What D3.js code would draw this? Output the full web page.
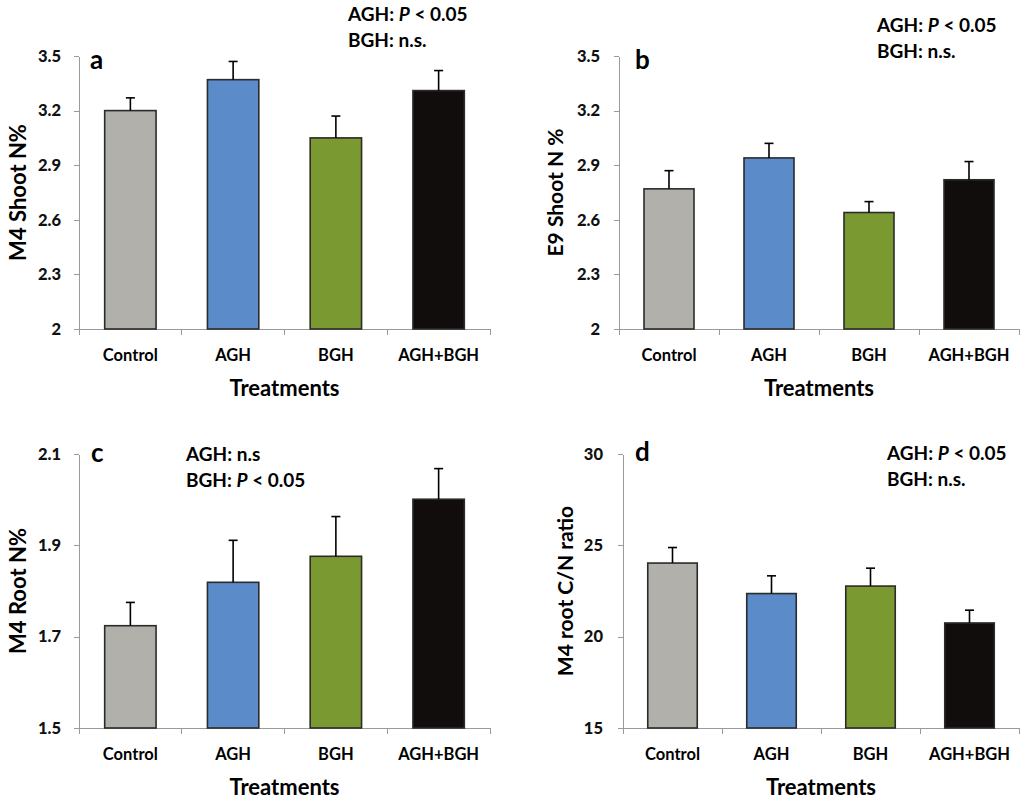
<html>
  <head>
    <title>Shoot and root N</title>
    <script type="text/javascript" src="https://cdn.jsdelivr.net/npm/d3@7"></script>
    <style type="text/css">

body {
  margin: 0;
  background: #fff;
  font-family: Lato, "Open Sans", sans-serif;
  font-weight: bold;
}

.axis path, .axis line {
  stroke: #9a9a9a;
  shape-rendering: crispEdges;
}

.bar {
  stroke: #2b2b2b;
  stroke-width: 1.6px;
}

.err {
  stroke: #000;
  stroke-width: 1.6px;
}

    </style>
  </head>
  <body>
    <script type="text/javascript">

var treatments = ["Control", "AGH", "BGH", "AGH+BGH"];
var barColors = ["#b1b0ab", "#5b8bc8", "#7a9930", "#110d0c"];

var m4Shoot = [3.20, 3.37, 3.05, 3.31],
    m4ShootErr = [0.07, 0.10, 0.12, 0.11],
    m4ShootTicks = [2, 2.3, 2.6, 2.9, 3.2, 3.5];

var e9Shoot = [2.77, 2.94, 2.64, 2.82],
    e9ShootErr = [0.10, 0.08, 0.06, 0.10],
    e9ShootTicks = [2, 2.3, 2.6, 2.9, 3.2, 3.5];

var m4Root = [1.724, 1.819, 1.876, 2.001],
    m4RootErr = [0.051, 0.092, 0.087, 0.067],
    m4RootTicks = [1.5, 1.7, 1.9, 2.1];

var m4CN = [24.03, 22.36, 22.77, 20.75],
    m4CNErr = [0.85, 0.97, 0.98, 0.70],
    m4CNTicks = [15, 20, 25, 30];

var svg = d3.select("body")
  .append("svg")
    .attr("width", 1024)
    .attr("height", 799);

function panel(o) {
  var x = d3.scaleBand()
      .domain(treatments)
      .range([o.x0, o.x1])
      .paddingInner(0.5)
      .paddingOuter(0.25);

  var y = d3.scaleLinear()
      .domain([o.ticks[0], o.ticks[o.ticks.length - 1]])
      .range([o.y0, o.y1]);

  var g = svg.append("g");

  // y axis
  g.append("g")
      .attr("class", "axis")
      .attr("transform", "translate(" + o.x0 + ",0)")
      .call(d3.axisLeft(y).tickValues(o.ticks).tickSize(5).tickSizeOuter(0)
        .tickFormat(function(d) { return String(d); }))
      .call(function(a) {
        a.selectAll("text").attr("x", -o.labelGap).attr("fill", "#111")
            .style("font-size", "16.5px").style("font-family", "Lato, sans-serif")
            .style("font-weight", "900");
      });

  // x axis with ticks at the category boundaries
  var xa = g.append("g")
      .attr("class", "axis");
  xa.append("line")
      .attr("x1", o.x0).attr("x2", o.x1)
      .attr("y1", o.y0 + 0.5).attr("y2", o.y0 + 0.5);
  var step = (o.x1 - o.x0) / treatments.length;
  xa.selectAll("line.tick")
      .data(d3.range(treatments.length + 1))
    .enter().append("line")
      .attr("class", "tick")
      .attr("x1", function(i) { return o.x0 + i * step; })
      .attr("x2", function(i) { return o.x0 + i * step; })
      .attr("y1", o.y0)
      .attr("y2", o.y0 + 6);

  g.selectAll("text.cat")
      .data(treatments)
    .enter().append("text")
      .attr("class", "cat")
      .attr("x", function(d) { return x(d) + x.bandwidth() / 2; })
      .attr("y", o.y0 + 32)
      .attr("text-anchor", "middle")
      .style("font-size", "16.5px")
      .text(function(d) { return d; });

  g.append("text")
      .attr("x", (o.x0 + o.x1) / 2)
      .attr("y", o.y0 + 67)
      .attr("text-anchor", "middle")
      .style("font-size", "22px")
      .text("Treatments");

  g.append("text")
      .attr("transform", "translate(" + o.ylx + "," + ((o.y0 + o.y1) / 2) + ") rotate(-90)")
      .attr("text-anchor", "middle")
      .attr("dy", ".35em")
      .style("font-size", o.ylSize + "px")
      .text(o.ylabel);

  // bars
  g.selectAll("rect.bar")
      .data(o.values)
    .enter().append("rect")
      .attr("class", "bar")
      .attr("x", function(d, i) { return x(treatments[i]); })
      .attr("width", x.bandwidth())
      .attr("y", function(d) { return y(d); })
      .attr("height", function(d) { return o.y0 - y(d); })
      .attr("fill", function(d, i) { return barColors[i]; });

  // upper error bars
  var cx = function(d, i) { return x(treatments[i]) + x.bandwidth() / 2; };
  g.selectAll("line.err")
      .data(o.values)
    .enter().append("line")
      .attr("class", "err")
      .attr("x1", cx).attr("x2", cx)
      .attr("y1", function(d) { return y(d); })
      .attr("y2", function(d, i) { return y(d + o.errors[i]); });
  g.selectAll("line.cap")
      .data(o.values)
    .enter().append("line")
      .attr("class", "err")
      .attr("x1", function(d, i) { return cx(d, i) - 4.5; })
      .attr("x2", function(d, i) { return cx(d, i) + 4.5; })
      .attr("y1", function(d, i) { return y(d + o.errors[i]); })
      .attr("y2", function(d, i) { return y(d + o.errors[i]); });

  // panel letter
  g.append("text")
      .attr("x", o.letterX)
      .attr("y", o.letterY)
      .attr("dy", ".35em")
      .style("font-size", "26px")
      .text(o.letter);

  // significance notes
  o.notes.forEach(function(n, i) {
    var t = g.append("text")
        .attr("x", o.noteX)
        .attr("y", o.noteY + i * 26)
        .attr("dy", ".35em")
        .style("font-size", "19px");
    n.forEach(function(part) {
      t.append("tspan")
          .style("font-style", part.italic ? "italic" : "normal")
          .text(part.t);
    });
  });
}

var sigA = [[{t: "AGH: "}, {t: "P", italic: true}, {t: " < 0.05"}], [{t: "BGH: n.s."}]];

panel({x0: 79, x1: 490, y0: 329, y1: 56, ticks: m4ShootTicks, values: m4Shoot, errors: m4ShootErr,
  labelGap: 18, ylabel: "M4 Shoot N%", ylx: 18, ylSize: 22,
  letter: "a", letterX: 90, letterY: 60, notes: sigA, noteX: 348, noteY: 14});

panel({x0: 619, x1: 1019, y0: 329, y1: 56, ticks: e9ShootTicks, values: e9Shoot, errors: e9ShootErr,
  labelGap: 19, ylabel: "E9 Shoot N %", ylx: 556, ylSize: 21,
  letter: "b", letterX: 635, letterY: 60, notes: sigA, noteX: 877, noteY: 25});

panel({x0: 79, x1: 490, y0: 728, y1: 454, ticks: m4RootTicks, values: m4Root, errors: m4RootErr,
  labelGap: 18, ylabel: "M4 Root N%", ylx: 18, ylSize: 22,
  letter: "c", letterX: 91, letterY: 453,
  notes: [[{t: "AGH: n.s"}], [{t: "BGH: "}, {t: "P", italic: true}, {t: " < 0.05"}]], noteX: 186, noteY: 454});

panel({x0: 623, x1: 1019, y0: 728, y1: 454, ticks: m4CNTicks, values: m4CN, errors: m4CNErr,
  labelGap: 20, ylabel: "M4 root C/N ratio", ylx: 566, ylSize: 21,
  letter: "d", letterX: 635, letterY: 452, notes: sigA, noteX: 887, noteY: 453});

    </script>
  </body>
</html>
